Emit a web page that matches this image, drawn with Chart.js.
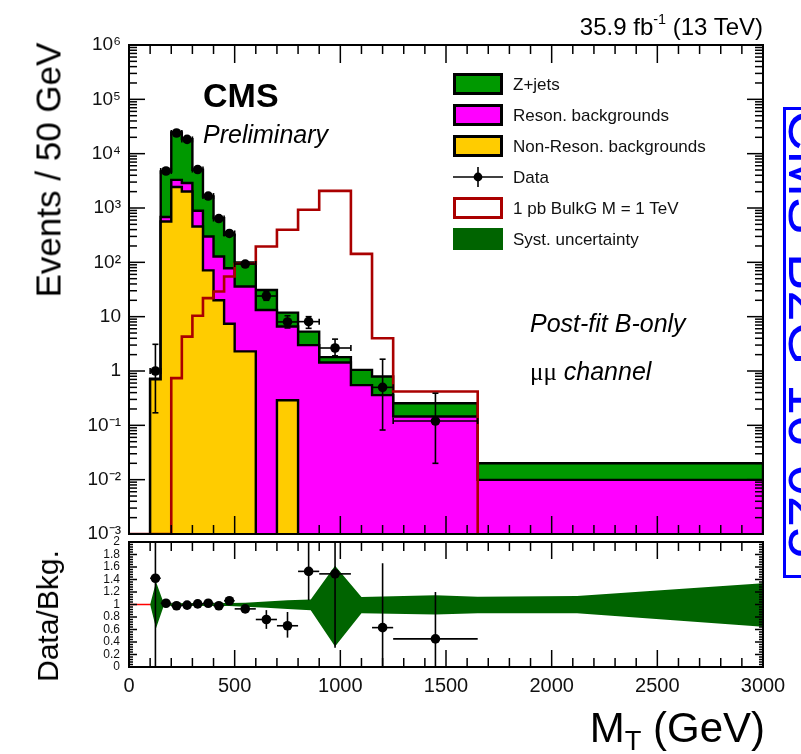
<!DOCTYPE html>
<html lang="en">
<head>
<meta charset="utf-8">
<title>M_T distribution, mumu channel</title>
<script src="https://cdn.jsdelivr.net/npm/chart.js@4.4.1/dist/chart.umd.min.js"></script>
<style>
  html, body { margin:0; padding:0; background:#fff; }
  #fig { position:relative; width:801px; height:754px; overflow:hidden;
         font-family:"Liberation Sans", Arial, Helvetica, sans-serif; color:#000; }
  #fig canvas { position:absolute; left:0; top:0; }
  .txt { position:absolute; white-space:nowrap; line-height:1; }
  .rot { position:absolute; white-space:nowrap; line-height:1; transform-origin:0 0; }
  .leg-row { position:absolute; left:453px; width:300px; height:22px; }
  .leg-box { position:absolute; left:0; top:0; width:50px; height:22px; box-sizing:border-box; }
  .leg-lab { position:absolute; left:60px; top:3px; font-size:17px; line-height:1; white-space:nowrap; color:#111; }
  #stamp { position:absolute; left:783px; top:107px; width:100px; height:471px;
           border:3px solid #0000ff; box-sizing:border-box; }
</style>
</head>
<body>
<div id="fig">
  <canvas id="mainPad" width="801" height="754"></canvas>
  <canvas id="ratioPad" width="801" height="754"></canvas>

  <div class="txt" style="right:38px; top:14.7px; font-size:24px;">35.9 fb<span style="font-size:0.6em; position:relative; top:-0.75em;">-1</span> (13 TeV)</div>
  <div class="txt" style="left:203px; top:78px; font-size:34px; font-weight:bold;">CMS</div>
  <div class="txt" style="left:203px; top:122px; font-size:25px; font-style:italic;">Preliminary</div>
  <div class="txt" style="left:530px; top:310.5px; font-size:25px; font-style:italic;">Post-fit B-only</div>
  <div class="txt" style="left:530px; top:358.5px; font-size:25px;"><span style="font-family:'Liberation Serif', serif;">μμ</span> <i>channel</i></div>

  <div class="rot" style="left:47.5px; top:170px; font-size:35px; transform:rotate(-90deg) translate(-50%,-50%);">Events / 50 GeV</div>
  <div class="rot" style="left:47.5px; top:616px; font-size:30px; transform:rotate(-90deg) translate(-50%,-50%);">Data/Bkg.</div>
  <div class="txt" style="right:36px; top:706.5px; font-size:42px;">M<span style="font-size:0.65em; position:relative; top:0.3em;">T</span> (GeV)</div>

  <div id="legend"></div>

  <div id="stamp"></div>
  <div class="rot" style="left:836px; top:110px; font-size:56px; color:#0000ff; transform:rotate(90deg);">CMS-B2G-16-025</div>
</div>

<script>
// ---------------- binning (GeV) ----------------
const binEdges = [100, 150, 200, 250, 300, 350, 400, 450, 500, 600, 700, 800, 900, 1050, 1150, 1250, 1650, 3000];

// ---------------- expected yields per bin (events / 50 GeV) ----------------
const nonResonBkg = [0.70, 565, 2430, 2010, 456, 71, 20, 7.4, 2.3, 0, 0.29, 0, 0, 0, 0, 0, 0];
const resonBkg    = [0, 120, 870, 870, 434, 228, 108, 70.6, 33.7, 13.3, 6.3, 3.0, 1.43, 0.55, 0.36, 0.145, 0.0099];
const zJets       = [0.02, 4015, 21200, 15620, 4160, 1331, 524, 243, 64, 17.7, 5.3, 2.3, 0.37, 0.50, 0.43, 0.11, 0.0101];

// ---------------- signal: 1 pb BulkG, M = 1 TeV ----------------
const signalEdges = [0, 200, 250, 300, 350, 400, 450, 500, 600, 700, 800, 900, 1050, 1150, 1250, 1650];
const signalYield = [0, 0.74, 4.3, 10.4, 21.9, 29, 55, 94, 195, 397, 927, 2070, 143, 4.0, 0.42];

// ---------------- observed data ----------------
const dataX       = [125, 175, 225, 275, 325, 375, 425, 475, 550, 650, 750, 850, 975, 1200, 1450];
const dataBinLow  = [100, 150, 200, 250, 300, 350, 400, 450, 500, 600, 700, 800, 900, 1150, 1250];
const dataBinHigh = [150, 200, 250, 300, 350, 400, 450, 500, 600, 700, 800, 900, 1050, 1250, 1650];
const dataY       = [1.0, 4800, 24000, 18300, 5100, 1660, 640, 340, 93, 24, 8.0, 8.1, 2.65, 0.50, 0.12];
const dataYLow    = [0.17, 4730, 23850, 18160, 5030, 1620, 615, 322, 84, 20, 6.2, 6.1, 1.9, 0.082, 0.020];
const dataYHigh   = [3.1, 4870, 24150, 18440, 5170, 1700, 665, 358, 102, 29, 10.4, 10.0, 3.86, 1.65, 0.39];

// ---------------- data / background ----------------
const ratioY     = [1.42, 1.02, 0.98, 0.99, 1.01, 1.02, 0.98, 1.06, 0.93, 0.76, 0.66, 1.53, 1.49, 0.63, 0.45];
const ratioYLow  = [0, 1.00, 0.96, 0.97, 0.99, 1.00, 0.96, 1.03, 0.89, 0.61, 0.47, 1.07, 0.31, 0, 0];
const ratioYHigh = [2.6, 1.04, 1.00, 1.01, 1.03, 1.04, 1.00, 1.09, 0.97, 0.91, 0.88, 2.1, 2.4, 1.66, 1.20];

// ---------------- systematic uncertainty band on the ratio ----------------
const bandX    = [100, 128, 165, 175, 475, 550, 650, 750, 860, 975, 1100, 1450, 1650, 2120, 3000];
const bandLow  = [1.00, 0.62, 0.985, 0.98, 0.975, 0.965, 0.95, 0.93, 0.91, 0.33, 0.86, 0.84, 0.86, 0.86, 0.645];
const bandHigh = [1.00, 1.36, 1.015, 1.02, 1.025, 1.03, 1.05, 1.07, 1.08, 1.62, 1.12, 1.15, 1.125, 1.136, 1.34];

// ---------------- axis ticks ----------------
const yTickValues = [1e-3, 1e-2, 1e-1, 1, 10, 100, 1e3, 1e4, 1e5, 1e6];
const yTickLabels = ['10\u207B\u00B3', '10\u207B\u00B2', '10\u207B\u00B9', '1', '10', '10\u00B2', '10\u00B3', '10\u2074', '10\u2075', '10\u2076'];
const xTickValues = [0, 500, 1000, 1500, 2000, 2500, 3000];
const xTickLabels = ['0', '500', '1000', '1500', '2000', '2500', '3000'];
const ratioTickValues = [0, 0.2, 0.4, 0.6, 0.8, 1, 1.2, 1.4, 1.6, 1.8, 2];
const ratioTickLabels = ['0', '0.2', '0.4', '0.6', '0.8', '1', '1.2', '1.4', '1.6', '1.8', '2'];

// ---------------- legend ----------------
const legendLabels = ['Z+jets', 'Reson. backgrounds', 'Non-Reson. backgrounds', 'Data', '1 pb BulkG M = 1 TeV', 'Syst. uncertainty'];

// ---------------- styling ----------------
const FONT = '"Liberation Sans", Arial, Helvetica, sans-serif';
const zJetsColor = '#009900';
const resonColor = '#ff00ff';
const nonResonColor = '#ffcc00';
const signalColor = '#aa0000';
const systColor = '#006400';
const Y_MIN = 1e-3, Y_MAX = 1e6;
const FLOOR = 1e-5;

// cumulative stack tops
const stackNonReson = nonResonBkg.slice();
const stackReson = nonResonBkg.map((v, i) => v + resonBkg[i]);
const stackTotal = stackReson.map((v, i) => v + zJets[i]);

// outline of a histogram as a stepped polyline (value of a point holds until the next edge)
function stepPoints(edges, values, floor) {
  const pts = [{x: edges[0], y: floor}];
  values.forEach((v, i) => pts.push({x: edges[i], y: v > 0 ? v : floor}));
  const last = values[values.length - 1];
  pts.push({x: edges[edges.length - 1], y: last > 0 ? last : floor});
  pts.push({x: edges[edges.length - 1], y: floor});
  return pts;
}

// ROOT-style frame with inward tick marks on all four sides
function framePlugin(cfg) {
  return {
    id: 'frame_' + cfg.name,
    afterDatasetsDraw(chart) {
      const {ctx, chartArea: a} = chart;
      const xs = chart.scales.x, ys = chart.scales.y;
      ctx.save();
      ctx.strokeStyle = '#000';
      ctx.lineWidth = 1.5;
      const seg = (x1, y1, x2, y2) => { ctx.beginPath(); ctx.moveTo(x1, y1); ctx.lineTo(x2, y2); ctx.stroke(); };
      cfg.xTicks.forEach(t => {
        const p = xs.getPixelForValue(t.v);
        seg(p, a.bottom, p, a.bottom - t.len);
        seg(p, a.top, p, a.top + t.len);
      });
      cfg.yTicks.forEach(t => {
        const p = ys.getPixelForValue(t.v);
        seg(a.left, p, a.left + t.len, p);
        seg(a.right, p, a.right - t.len, p);
      });
      ctx.lineWidth = 2;
      ctx.strokeRect(a.left, a.top, a.right - a.left, a.bottom - a.top);
      ctx.restore();
    }
  };
}

// error bars drawn underneath the marker dataset
function errorBarPlugin(cfg) {
  return {
    id: 'err_' + cfg.name,
    beforeDatasetDraw(chart, args) {
      if (args.index !== cfg.datasetIndex) return;
      const {ctx, chartArea: a} = chart;
      const xs = chart.scales.x, ys = chart.scales.y;
      const yPix = v => (cfg.log && v <= 0) ? a.bottom + 10 : ys.getPixelForValue(v);
      ctx.save();
      ctx.beginPath();
      ctx.rect(a.left, a.top, a.right - a.left, a.bottom - a.top);
      ctx.clip();
      ctx.strokeStyle = '#000';
      ctx.lineWidth = 1.6;
      const seg = (x1, y1, x2, y2) => { ctx.beginPath(); ctx.moveTo(x1, y1); ctx.lineTo(x2, y2); ctx.stroke(); };
      cfg.x.forEach((xv, i) => {
        const px = xs.getPixelForValue(xv);
        const py = ys.getPixelForValue(cfg.y[i]);
        const yl = yPix(cfg.yLow[i]), yh = yPix(cfg.yHigh[i]);
        const xl = xs.getPixelForValue(cfg.xLow[i]), xh = xs.getPixelForValue(cfg.xHigh[i]);
        seg(px, yl, px, yh);
        seg(xl, py, xh, py);
        if (cfg.cap) {
          seg(px - cfg.cap, yl, px + cfg.cap, yl);
          seg(px - cfg.cap, yh, px + cfg.cap, yh);
          seg(xl, py - cfg.cap, xl, py + cfg.cap);
          seg(xh, py - cfg.cap, xh, py + cfg.cap);
        }
      });
      ctx.restore();
    }
  };
}

// tick mark lists
const xFrameTicks = [];
for (let v = 0; v <= 3000; v += 100) xFrameTicks.push({v, major: v % 500 === 0});
const logFrameTicks = [];
for (let d = -3; d <= 5; d++) {
  for (let k = 1; k <= 9; k++) logFrameTicks.push({v: k * Math.pow(10, d), major: k === 1});
}
logFrameTicks.push({v: 1e6, major: true});
const ratioFrameTicks = [];
for (let i = 0; i <= 50; i++) ratioFrameTicks.push({v: i * 0.04, major: i % 5 === 0});

const baseOptions = {
  responsive: false,
  animation: false,
  events: [],
  plugins: { legend: {display: false}, tooltip: {enabled: false} }
};

// ---------------- upper pad: event yields ----------------
new Chart(document.getElementById('mainPad'), {
  type: 'line',
  data: {
    datasets: [
      { type: 'scatter', data: dataX.map((x, i) => ({x, y: dataY[i]})), order: 1,
        pointRadius: 4.8, pointBackgroundColor: '#000', pointBorderColor: '#000', pointBorderWidth: 0 },
      { data: stepPoints(signalEdges, signalYield, Y_MIN), order: 2, stepped: 'before',
        borderColor: signalColor, borderWidth: 2.6, pointRadius: 0, fill: false },
      { data: stepPoints(binEdges, stackNonReson, FLOOR), order: 3, stepped: 'before',
        borderColor: '#000', borderWidth: 2.4, backgroundColor: nonResonColor, fill: 'start', pointRadius: 0 },
      { data: stepPoints(binEdges, stackReson, FLOOR), order: 4, stepped: 'before',
        borderColor: '#000', borderWidth: 2.4, backgroundColor: resonColor, fill: 'start', pointRadius: 0 },
      { data: stepPoints(binEdges, stackTotal, FLOOR), order: 5, stepped: 'before',
        borderColor: '#000', borderWidth: 2.4, backgroundColor: zJetsColor, fill: 'start', pointRadius: 0 }
    ]
  },
  options: Object.assign({}, baseOptions, {
    layout: { padding: {left: 0, right: 38, top: 45, bottom: 220} },
    scales: {
      x: { type: 'linear', min: 0, max: 3000, display: false },
      y: {
        type: 'logarithmic', min: Y_MIN, max: Y_MAX,
        afterFit(s) { s.width = 129; },
        afterBuildTicks(s) { s.ticks = yTickValues.map(v => ({value: v})); },
        grid: { display: false, drawTicks: false },
        border: { display: false },
        ticks: { autoSkip: false, padding: 8, color: '#111',
                 font: {family: FONT, size: 19},
                 callback: (v, i) => yTickLabels[i] }
      }
    }
  }),
  plugins: [
    errorBarPlugin({ name: 'main', datasetIndex: 0, log: true, cap: 3,
      x: dataX, y: dataY, yLow: dataYLow, yHigh: dataYHigh, xLow: dataBinLow, xHigh: dataBinHigh }),
    framePlugin({ name: 'main',
      xTicks: xFrameTicks.map(t => ({v: t.v, len: t.major ? 18 : 9})),
      yTicks: logFrameTicks.map(t => ({v: t.v, len: t.major ? 16 : 8})) })
  ]
});

// ---------------- lower pad: data / background ----------------
new Chart(document.getElementById('ratioPad'), {
  type: 'line',
  data: {
    datasets: [
      { type: 'scatter', data: dataX.map((x, i) => ({x, y: ratioY[i]})), order: 1,
        pointRadius: 4.8, pointBackgroundColor: '#000', pointBorderColor: '#000', pointBorderWidth: 0 },
      { data: bandX.map((x, i) => ({x, y: bandHigh[i]})), order: 2, fill: '+1',
        backgroundColor: systColor, borderColor: 'rgba(0,0,0,0)', borderWidth: 0, pointRadius: 0 },
      { data: bandX.map((x, i) => ({x, y: bandLow[i]})), order: 3, fill: false,
        borderColor: 'rgba(0,0,0,0)', borderWidth: 0, pointRadius: 0 },
      { data: [{x: 0, y: 1}, {x: 3000, y: 1}], order: 4, fill: false,
        borderColor: '#ff0000', borderWidth: 1.5, pointRadius: 0 }
    ]
  },
  options: Object.assign({}, baseOptions, {
    layout: { padding: {left: 0, right: 38, top: 542, bottom: 0} },
    scales: {
      x: {
        type: 'linear', min: 0, max: 3000,
        afterFit(s) { s.height = 87; },
        afterBuildTicks(s) { s.ticks = xTickValues.map(v => ({value: v})); },
        grid: { display: false, drawTicks: false },
        border: { display: false },
        ticks: { autoSkip: false, maxRotation: 0, padding: 7, color: '#111',
                 font: {family: FONT, size: 20},
                 callback: (v, i) => xTickLabels[i] }
      },
      y: {
        type: 'linear', min: 0, max: 2,
        afterFit(s) { s.width = 129; },
        afterBuildTicks(s) { s.ticks = ratioTickValues.map(v => ({value: v})); },
        grid: { display: false, drawTicks: false },
        border: { display: false },
        ticks: { autoSkip: false, padding: 9, color: '#111',
                 font: {family: FONT, size: 12},
                 callback: (v, i) => ratioTickLabels[i] }
      }
    }
  }),
  plugins: [
    errorBarPlugin({ name: 'ratio', datasetIndex: 0, log: false, cap: 0,
      x: dataX, y: ratioY, yLow: ratioYLow, yHigh: ratioYHigh, xLow: dataBinLow, xHigh: dataBinHigh }),
    framePlugin({ name: 'ratio',
      xTicks: xFrameTicks.map(t => ({v: t.v, len: t.major ? 17 : 9})),
      yTicks: ratioFrameTicks.map(t => ({v: t.v, len: t.major ? 8 : 4})) })
  ]
});

// ---------------- legend ----------------
const legendSwatches = [
  {fill: zJetsColor, border: '3px solid #000'},
  {fill: resonColor, border: '3px solid #000'},
  {fill: nonResonColor, border: '3px solid #000'},
  {marker: true},
  {fill: '#fff', border: '3px solid ' + signalColor},
  {fill: systColor, border: 'none'}
];
const legendEl = document.getElementById('legend');
legendLabels.forEach((label, i) => {
  const row = document.createElement('div');
  row.className = 'leg-row';
  row.style.top = (72.5 + 31 * i) + 'px';
  const sw = legendSwatches[i];
  if (sw.marker) {
    row.innerHTML = '<svg class="leg-box" width="50" height="22" viewBox="0 0 50 22">' +
      '<line x1="0" y1="11" x2="50" y2="11" stroke="#000" stroke-width="1.6"/>' +
      '<line x1="25" y1="1" x2="25" y2="21" stroke="#000" stroke-width="1.6"/>' +
      '<circle cx="25" cy="11" r="4.4" fill="#000"/></svg>';
  } else {
    const box = document.createElement('div');
    box.className = 'leg-box';
    box.style.background = sw.fill;
    box.style.border = sw.border;
    row.appendChild(box);
  }
  const lab = document.createElement('div');
  lab.className = 'leg-lab';
  lab.textContent = label;
  row.appendChild(lab);
  legendEl.appendChild(row);
});
</script>
</body>
</html>
